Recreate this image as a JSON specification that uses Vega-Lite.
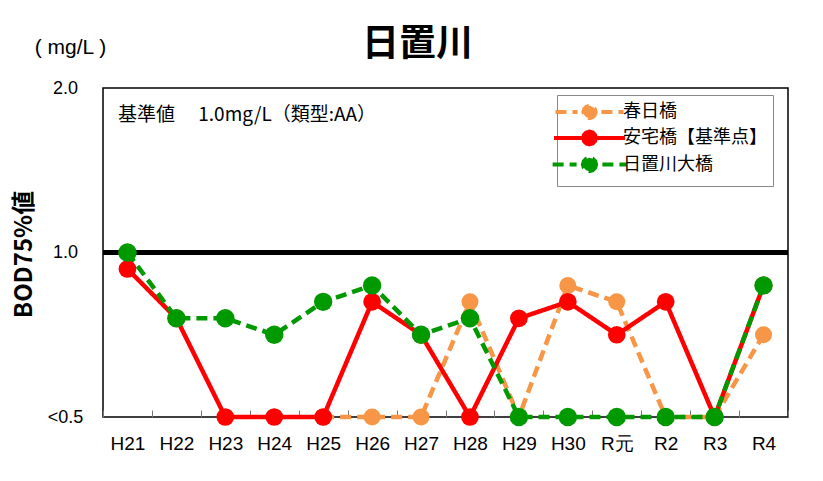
{
  "$schema": "https://vega.github.io/schema/vega-lite/v6.json",
  "width": 685,
  "height": 329,
  "autosize": {"type": "none"},
  "padding": {"left": 103, "top": 88, "right": 35, "bottom": 64},
  "background": "white",
  "config": {
    "view": {"stroke": "black", "strokeWidth": 1.5},
    "font": "Noto Sans CJK JP",
    "legend": {
      "orient": "none",
      "legendX": 454,
      "legendY": 7,
      "fillColor": "white",
      "strokeColor": "#888888",
      "padding": 6,
      "rowPadding": -4,
      "labelFont": "Noto Sans CJK JP",
      "labelFontSize": 18,
      "labelColor": "black",
      "labelOffset": 22,
      "symbolSize": 144,
      "symbolStrokeWidth": 4,
      "symbolOffset": 15
    }
  },
  "title": {
    "text": "日置川",
    "font": "Noto Sans CJK JP",
    "fontSize": 37,
    "fontWeight": "bold",
    "color": "black",
    "anchor": "middle",
    "dx": -28,
    "baseline": "bottom",
    "offset": 0,
    "dy": 65
  },
  "datasets": {
    "bod": [
      {"year": "H25", "site": "春日橋", "value": 0.5},
      {"year": "H26", "site": "春日橋", "value": 0.5},
      {"year": "H27", "site": "春日橋", "value": 0.5},
      {"year": "H28", "site": "春日橋", "value": 0.85},
      {"year": "H29", "site": "春日橋", "value": 0.5},
      {"year": "H30", "site": "春日橋", "value": 0.9},
      {"year": "R元", "site": "春日橋", "value": 0.85},
      {"year": "R2", "site": "春日橋", "value": 0.5},
      {"year": "R3", "site": "春日橋", "value": 0.5},
      {"year": "R4", "site": "春日橋", "value": 0.75},
      {"year": "H21", "site": "安宅橋【基準点】", "value": 0.95},
      {"year": "H22", "site": "安宅橋【基準点】", "value": 0.8},
      {"year": "H23", "site": "安宅橋【基準点】", "value": 0.5},
      {"year": "H24", "site": "安宅橋【基準点】", "value": 0.5},
      {"year": "H25", "site": "安宅橋【基準点】", "value": 0.5},
      {"year": "H26", "site": "安宅橋【基準点】", "value": 0.85},
      {"year": "H27", "site": "安宅橋【基準点】", "value": 0.75},
      {"year": "H28", "site": "安宅橋【基準点】", "value": 0.5},
      {"year": "H29", "site": "安宅橋【基準点】", "value": 0.8},
      {"year": "H30", "site": "安宅橋【基準点】", "value": 0.85},
      {"year": "R元", "site": "安宅橋【基準点】", "value": 0.75},
      {"year": "R2", "site": "安宅橋【基準点】", "value": 0.85},
      {"year": "R3", "site": "安宅橋【基準点】", "value": 0.5},
      {"year": "R4", "site": "安宅橋【基準点】", "value": 0.9},
      {"year": "H21", "site": "日置川大橋", "value": 1.0},
      {"year": "H22", "site": "日置川大橋", "value": 0.8},
      {"year": "H23", "site": "日置川大橋", "value": 0.8},
      {"year": "H24", "site": "日置川大橋", "value": 0.75},
      {"year": "H25", "site": "日置川大橋", "value": 0.85},
      {"year": "H26", "site": "日置川大橋", "value": 0.9},
      {"year": "H27", "site": "日置川大橋", "value": 0.75},
      {"year": "H28", "site": "日置川大橋", "value": 0.8},
      {"year": "H29", "site": "日置川大橋", "value": 0.5},
      {"year": "H30", "site": "日置川大橋", "value": 0.5},
      {"year": "R元", "site": "日置川大橋", "value": 0.5},
      {"year": "R2", "site": "日置川大橋", "value": 0.5},
      {"year": "R3", "site": "日置川大橋", "value": 0.5},
      {"year": "R4", "site": "日置川大橋", "value": 0.9}
    ]
  },
  "layer": [
    {
      "data": {"values": [{"std": 1.0}]},
      "mark": {"type": "rule", "color": "black", "strokeWidth": 5},
      "encoding": {
        "y": {
          "field": "std",
          "type": "quantitative",
          "scale": {"domain": [0.5, 1, 2], "range": [329, 164.5, 0], "nice": false, "zero": false},
          "axis": {
            "orient": "left",
            "labels": false,
            "ticks": false,
            "domain": false,
            "grid": false,
            "title": "(   mg/L   )",
            "titleFont": "Liberation Sans",
            "titleFontSize": 21,
            "titleFontWeight": "normal",
            "titleColor": "black",
            "titleAngle": 0,
            "titleAlign": "center",
            "titleBaseline": "middle",
            "titleX": -33,
            "titleY": -41
          }
        }
      }
    },
    {
      "data": {"name": "bod"},
      "mark": {"type": "line", "strokeWidth": 4.5},
      "encoding": {
        "x": {
          "field": "year",
          "type": "nominal",
          "bandPosition": 0.5,
          "scale": {"type": "band", "domain": ["H21","H22","H23","H24","H25","H26","H27","H28","H29","H30","R元","R2","R3","R4"], "paddingInner": 0, "paddingOuter": 0},
          "axis": {
            "title": null,
            "labelAngle": 0,
            "domain": false,
            "grid": false,
            "tickBand": "extent",
            "tickSize": -7,
            "tickColor": "#777777",
            "labelPadding": 33,
            "labelFont": "Liberation Sans",
            "labelFontSize": 19,
            "labelColor": "black",
            "labelBaseline": "middle"
          }
        },
        "y": {
          "field": "value",
          "type": "quantitative",
          "scale": {"domain": [0.5, 1, 2], "range": [329, 164.5, 0], "nice": false, "zero": false},
          "axis": {
            "orient": "left",
            "values": [0.5, 1, 2],
            "labelExpr": "datum.value == 0.5 ? '<0.5' : format(datum.value, '.1f')",
            "grid": false,
            "ticks": false,
            "tickSize": 0,
            "domain": false,
            "labelAlign": "center",
            "labelBaseline": "middle",
            "labelPadding": 38,
            "labelFont": "Liberation Sans",
            "labelFontSize": 18,
            "labelColor": "black",
            "title": "BOD75%値",
            "titleFont": "Noto Sans CJK JP",
            "titleFontSize": 24,
            "titleFontWeight": "bold",
            "titleColor": "black",
            "titleAngle": -90,
            "titleX": -79,
            "titleY": 166,
            "titleAlign": "center",
            "titleBaseline": "middle"
          }
        },
        "color": {
          "field": "site",
          "type": "nominal",
          "scale": {"domain": ["春日橋", "安宅橋【基準点】", "日置川大橋"], "range": ["#F79646", "#FF0000", "#009900"]},
          "legend": {
            "title": null,
            "encode": {
              "symbols": {
                "update": {
                  "fill": {"scale": "color", "field": "value"},
                  "strokeDash": {"value": [1, 0]},
                  "shape": {"signal": "datum.value === '安宅橋【基準点】' ? 'M-4,0L4,0M0.72,0L0.62,0.36L0.36,0.62L0,0.72L-0.36,0.62L-0.62,0.36L-0.72,0L-0.62,-0.36L-0.36,-0.62L0,-0.72L0.36,-0.62L0.62,-0.36Z' : 'M-4,0L-1.4,0M1.4,0L4,0M0.72,0L0.62,0.36L0.36,0.62L0,0.72L-0.36,0.62L-0.62,0.36L-0.72,0L-0.62,-0.36L-0.36,-0.62L0,-0.72L0.36,-0.62L0.62,-0.36Z'"}
                }
              }
            }
          }
        },
        "strokeDash": {
          "field": "site",
          "type": "nominal",
          "scale": {"domain": ["春日橋", "安宅橋【基準点】", "日置川大橋"], "range": [[11, 6], [1, 0], [11, 6]]},
          "legend": null
        }
      }
    },
    {
      "data": {"name": "bod"},
      "mark": {"type": "circle", "opacity": 1},
      "encoding": {
        "x": {
          "field": "year",
          "type": "nominal",
          "bandPosition": 0.5,
          "scale": {"type": "band", "domain": ["H21","H22","H23","H24","H25","H26","H27","H28","H29","H30","R元","R2","R3","R4"], "paddingInner": 0, "paddingOuter": 0}
        },
        "y": {
          "field": "value",
          "type": "quantitative",
          "scale": {"domain": [0.5, 1, 2], "range": [329, 164.5, 0], "nice": false, "zero": false},
          "axis": null
        },
        "color": {
          "field": "site",
          "type": "nominal",
          "scale": {"domain": ["春日橋", "安宅橋【基準点】", "日置川大橋"], "range": ["#F79646", "#FF0000", "#009900"]},
          "legend": null
        },
        "size": {
          "field": "site",
          "type": "ordinal",
          "scale": {"domain": ["春日橋", "安宅橋【基準点】", "日置川大橋"], "range": [290, 340, 290]},
          "legend": null
        }
      }
    },
    {
      "data": {"values": [{"label": "基準値　 1.0mg/L（類型:AA）"}]},
      "mark": {"type": "text", "align": "left", "baseline": "middle", "dx": 15, "dy": 27, "fontSize": 19, "font": "Noto Sans CJK JP", "color": "black"},
      "encoding": {
        "x": {
          "datum": "H21",
          "bandPosition": 0,
          "scale": {"type": "band", "domain": ["H21","H22","H23","H24","H25","H26","H27","H28","H29","H30","R元","R2","R3","R4"], "paddingInner": 0, "paddingOuter": 0}
        },
        "y": {
          "datum": 2,
          "scale": {"domain": [0.5, 1, 2], "range": [329, 164.5, 0], "nice": false, "zero": false},
          "axis": null
        },
        "text": {"field": "label"}
      }
    }
  ],
  "resolve": {"axis": {"y": "independent"}}
}
